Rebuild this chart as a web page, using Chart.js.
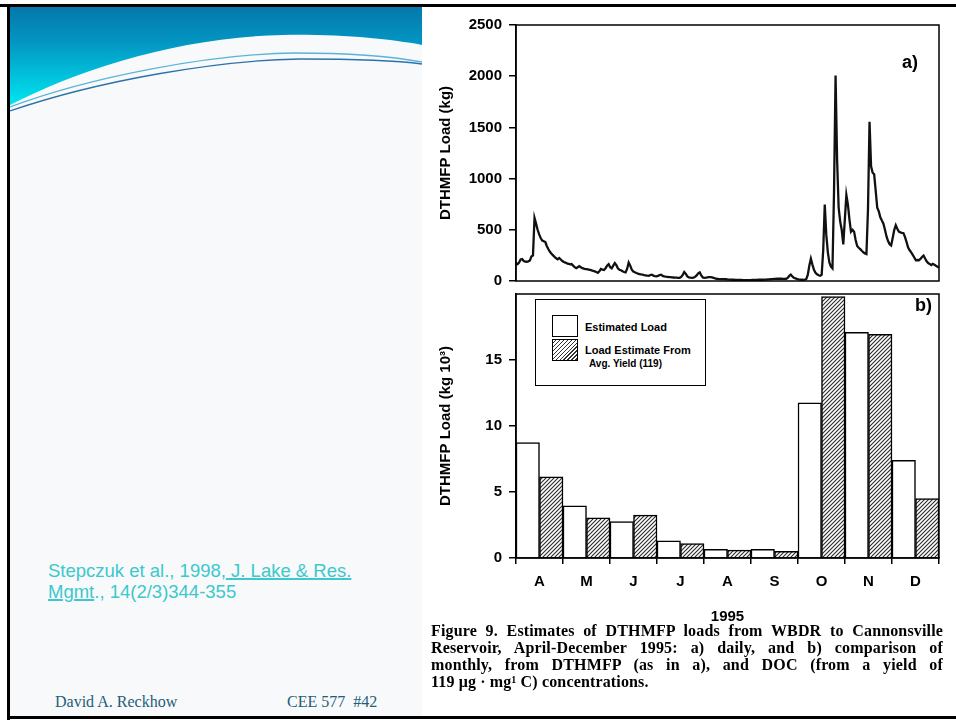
<!DOCTYPE html>
<html><head><meta charset="utf-8">
<script src="https://cdn.jsdelivr.net/npm/chart.js@4"></script>
<style>
html,body{margin:0;padding:0;}
body{width:956px;height:723px;position:relative;overflow:hidden;background:#fff;font-family:'Liberation Sans',Arial,sans-serif;}
.abs{position:absolute;}
#leftbg{left:10px;top:7px;width:412px;height:709px;background:#f8f9fa;}
#panel{left:422px;top:7px;width:534px;height:709px;background:#fff;}
#topbar{left:0;top:4px;width:956px;height:3px;background:#000;}
#leftbar{left:7px;top:4px;width:3px;height:716px;background:#000;}
#botbar{left:7px;top:716px;width:949px;height:3px;background:#000;}
canvas{position:absolute;}
#cA{left:422px;top:7px;}
#cB{left:422px;top:278px;}
.plab{font:bold 18px 'Liberation Sans',Arial,sans-serif;color:#000;line-height:20px;}
#legend{left:535px;top:299px;width:171px;height:87px;border:1.5px solid #000;background:#fff;box-sizing:border-box;}
.sw{position:absolute;left:16px;width:26px;height:22px;border:1.5px solid #000;box-sizing:border-box;}
.lt{position:absolute;font:bold 11px 'Liberation Sans',Arial,sans-serif;color:#000;white-space:nowrap;line-height:12px;}
#caption{left:431px;top:622px;width:512px;font:bold 16px 'Liberation Serif','Times New Roman',serif;letter-spacing:0.15px;color:#000;}
#caption div{height:17px;line-height:17px;text-align:justify;text-align-last:justify;white-space:nowrap;}
#caption div.last{text-align:left;text-align-last:left;}
#cite{left:48px;top:560px;font:18.5px 'Liberation Sans',Arial,sans-serif;color:#3cc8cc;line-height:21px;white-space:nowrap;}
#cite u{text-decoration-thickness:1.5px;}
.foot{top:693px;font:16px 'Liberation Serif','Times New Roman',serif;color:#1f5d78;white-space:nowrap;}
</style>
</head>
<body>
<div class="abs" id="leftbg"></div>
<svg class="abs" style="left:10px;top:7px" width="412" height="130" viewBox="0 0 412 130">
  <defs>
    <linearGradient id="g" x1="0" y1="0" x2="0" y2="1">
      <stop offset="0" stop-color="#0478ab"/>
      <stop offset="0.35" stop-color="#0395c2"/>
      <stop offset="1" stop-color="#00e6f0"/>
    </linearGradient>
  </defs>
  <path d="M0,0 H412 V38 C380,32 330,27 273,28 C170,30 70,62 0,98 Z" fill="url(#g)"/>
  <path d="M0,100 C80,70 200,47 285,46 C340,46 385,50 412,55" fill="none" stroke="#5ab4d6" stroke-width="1.3"/>
  <path d="M0,104 C90,73 210,53 290,52 C345,52 390,54 412,57" fill="none" stroke="#2d72aa" stroke-width="1.3"/>
</svg>
<div class="abs" id="panel"></div>
<div class="abs" id="topbar"></div>
<div class="abs" id="leftbar"></div>
<div class="abs" id="botbar"></div>

<canvas id="cA" width="534" height="290"></canvas>
<canvas id="cB" width="534" height="348"></canvas>

<div class="abs plab" style="left:902px;top:52px">a)</div>
<div class="abs plab" style="left:915px;top:295px">b)</div>

<div class="abs" id="legend">
  <div class="sw" style="top:15px;background:#fff"></div>
  <div class="sw" style="top:39px;background:repeating-linear-gradient(135deg,#fff 0 1.6px,#333 1.6px 2.8px)"></div>
  <div class="lt" style="left:49px;top:21px">Estimated Load</div>
  <div class="lt" style="left:49px;top:44px">Load Estimate From</div>
  <div class="lt" style="left:53px;top:58px;font-size:10px">Avg. Yield (119)</div>
</div>

<div class="abs" id="caption">
  <div>Figure 9. Estimates of DTHMFP loads from WBDR to Cannonsville</div>
  <div>Reservoir, April-December 1995: a) daily, and b) comparison of</div>
  <div>monthly, from DTHMFP (as in a), and DOC (from a yield of</div>
  <div class="last">119 μg · mg¹ C) concentrations.</div>
</div>

<div class="abs" id="cite">Stepczuk et al., 1998,<u> J. Lake &amp; Res.</u><br><u>Mgmt</u>., 14(2/3)344-355</div>
<div class="abs foot" style="left:55px">David A. Reckhow</div>
<div class="abs foot" style="left:287px">CEE 577&nbsp; #42</div>

<script>
// ---- Data ----
// Daily DTHMFP load (kg), 1 April - 31 December 1995
const dailyLoad = [
 170,165,180,210,215,195,190,188,192,200,
 240,250,615,560,500,455,420,395,388,380,
 340,310,285,265,250,235,222,212,225,210,
 195,185,180,172,168,162,165,150,135,125,
 135,145,135,125,120,117,115,112,108,104,
 98,94,88,80,95,118,112,108,125,150,
 165,135,124,150,175,155,125,110,105,95,
 88,84,120,180,150,110,93,85,78,72,
 68,64,62,58,55,52,50,58,62,52,
 48,45,50,58,62,50,45,42,40,38,
 37,35,34,33,32,31,31,40,60,87,
 70,45,35,32,30,32,40,55,75,84,
 55,35,31,32,35,37,37,35,30,25,
 22,20,19,18,19,19,17,15,14,13,
 12,12,11,11,10,10,10,9,9,9,
 9,9,9,10,10,11,11,12,12,12,
 12,13,14,15,16,18,19,20,21,22,
 22,22,22,21,21,22,30,50,62,45,
 31,25,20,16,13,12,12,14,18,60,
 150,218,160,109,80,65,56,52,60,300,
 746,450,280,180,140,124,871,2006,1182,715,
 580,498,358,600,840,746,600,482,500,482,
 400,342,325,311,295,280,270,264,700,1555,
 1120,1057,1042,880,715,680,622,590,560,500,
 435,390,360,348,420,498,544,510,482,475,
 470,467,429,380,327,300,280,255,230,202,
 205,203,215,235,249,220,193,175,165,156,
 168,160,149,140,130
];
const dayLabels = dailyLoad.map((_, i) => i + 1);

// Monthly loads (kg x 10^3)
const months = ['A','M','J','J','A','S','O','N','D'];
const estimatedLoad = [8.75, 3.95, 2.75, 1.3, 0.65, 0.65, 11.75, 17.1, 7.4];
const avgYieldLoad  = [6.15, 3.05, 3.25, 1.1, 0.6, 0.5, 19.8, 16.95, 4.5];

const yTicksA = [0, 500, 1000, 1500, 2000, 2500];
const yTicksB = [0, 5, 10, 15];

// ---- Styles ----
Chart.defaults.font.family = "'Liberation Sans', Arial, sans-serif";
Chart.defaults.font.size = 15;
Chart.defaults.font.weight = 'bold';
Chart.defaults.color = '#000';

function makeHatch(){
  const c = document.createElement('canvas'); c.width = 4; c.height = 4;
  const x = c.getContext('2d');
  x.fillStyle = '#fff'; x.fillRect(0,0,4,4);
  x.strokeStyle = '#2a2a2a'; x.lineWidth = 1.1;
  x.beginPath();
  x.moveTo(0,4); x.lineTo(4,0);
  x.moveTo(-1,1); x.lineTo(1,-1);
  x.moveTo(3,5); x.lineTo(5,3);
  x.stroke();
  return x.createPattern(c, 'repeat');
}

const framePlugin = {
  id: 'frame',
  afterDraw(chart){
    const {ctx, chartArea:a} = chart;
    ctx.save();
    ctx.strokeStyle = '#000'; ctx.lineWidth = 1.5;
    ctx.strokeRect(a.left, a.top, a.right - a.left, a.bottom - a.top);
    ctx.restore();
  }
};

const yAxisCommon = (title, min, max, step, ticksList) => ({
  min, max,
  afterFit: s => { s.width = 94; },
  afterBuildTicks: s => { s.ticks = ticksList.map(v => ({value: v})); },
  ticks: { stepSize: step, padding: 7, font: {size: 15, weight: 'bold'}, callback: v => String(v) },
  grid: { display: true, drawOnChartArea: false, drawTicks: true, tickLength: 7, color: '#000', lineWidth: 1.5 },
  border: { display: true, color: '#000', width: 1.5 },
  title: { display: true, text: title, padding: {top: 15, bottom: 0}, font: {size: 15, weight: 'bold'} }
});

new Chart(document.getElementById('cA'), {
  type: 'line',
  data: {
    labels: dayLabels,
    datasets: [{ data: dailyLoad, borderColor: '#111', borderWidth: 2.3, pointRadius: 0, tension: 0, fill: false }]
  },
  options: {
    responsive: false, animation: false, devicePixelRatio: 1,
    layout: { padding: { left: 0, right: 17, top: 18, bottom: 4 } },
    plugins: { legend: {display: false}, tooltip: {enabled: false} },
    scales: {
      x: { display: false, offset: false },
      y: yAxisCommon('DTHMFP Load (kg)', 0, 2500, 500, yTicksA)
    }
  },
  plugins: [framePlugin]
});

const hatch = makeHatch();
new Chart(document.getElementById('cB'), {
  type: 'bar',
  data: {
    labels: months,
    datasets: [
      { label: 'Estimated Load', data: estimatedLoad, backgroundColor: '#fff', borderColor: '#000', borderWidth: 1.5, barPercentage: 1, categoryPercentage: 1 },
      { label: 'Load Estimate From Avg. Yield (119)', data: avgYieldLoad, backgroundColor: hatch, borderColor: '#000', borderWidth: 1.5, barPercentage: 1, categoryPercentage: 1 }
    ]
  },
  options: {
    responsive: false, animation: false, devicePixelRatio: 1,
    layout: { padding: { left: 0, right: 17, top: 7, bottom: 0 } },
    plugins: { legend: {display: false}, tooltip: {enabled: false} },
    scales: {
      x: {
        afterFit: s => { s.height = 68; },
        offset: true,
        ticks: { padding: 9, font: {size: 15, weight: 'bold'} },
        grid: { display: true, offset: true, drawOnChartArea: false, drawTicks: true, tickLength: 6, color: '#000', lineWidth: 1.5 },
        border: { display: true, color: '#000', width: 1.5 },
        title: { display: true, text: '1995', padding: {top: 0, bottom: 0}, font: {size: 15, weight: 'bold'} }
      },
      y: yAxisCommon('DTHMFP Load (kg 10³)', 0, 20, 5, yTicksB)
    }
  },
  plugins: [framePlugin]
});
</script>
</body></html>
